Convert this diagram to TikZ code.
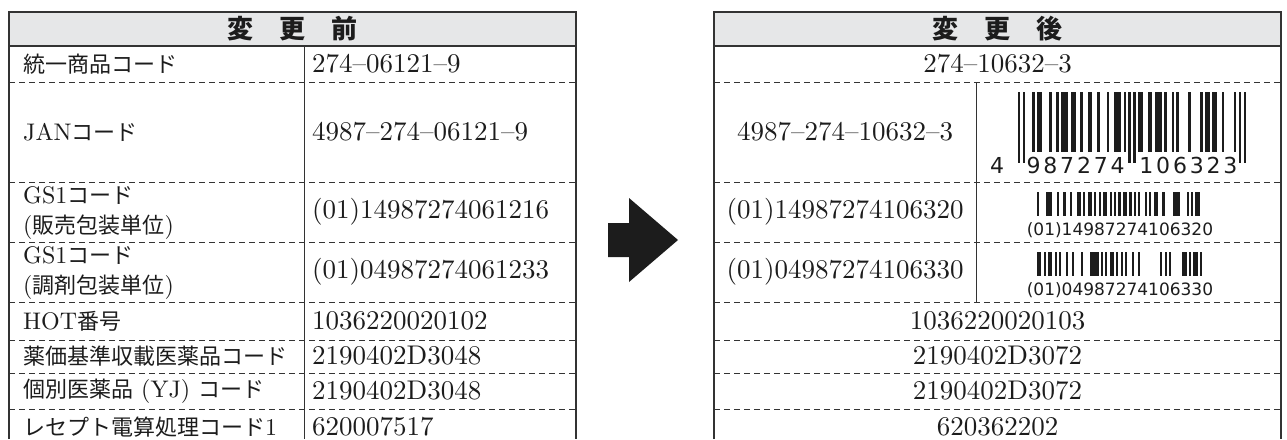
\documentclass[tikz,border=0pt]{standalone}
\usepackage{fontspec}
\setmainfont{lmroman10-regular}[Extension=.otf, BoldFont=lmroman10-bold]
\newfontfamily\jp{Noto Sans CJK JP}
\newfontfamily\bcfont{DejaVu Sans}
\newcommand{\J}[1]{{\jp\fontsize{22}{29}\selectfont #1}}
\definecolor{framegray}{HTML}{333333}
\definecolor{headgray}{HTML}{E6E7E8}
\definecolor{ink}{HTML}{1C1C1C}
\tikzset{
  frame/.style={draw=framegray, line width=1.4pt},
  colsep/.style={draw=framegray, line width=0.9pt},
  rowline/.style={draw=framegray, line width=0.8pt, dash pattern=on 6pt off 4pt},
  head/.style={inner sep=0pt, text=ink, font=\jp\bfseries\fontsize{26}{30}\selectfont},
  lab/.style={anchor=west, inner sep=0pt, align=left, text=ink, font=\fontsize{24}{30}\selectfont},
  val/.style={anchor=west, inner sep=0pt, text=ink, font=\fontsize{27}{30}\selectfont},
  mid/.style={inner sep=0pt, text=ink, font=\fontsize{27}{30}\selectfont},
  eannum/.style={anchor=base, inner sep=0pt, text=ink, font=\bcfont\fontsize{22}{24}\selectfont},
  gsnum/.style={anchor=base, inner sep=0pt, text=ink, font=\bcfont\fontsize{17}{18}\selectfont}
}

\begin{document}
\begin{tikzpicture}[x=1pt,y=-1pt]
\def\rowys{82,182,242,302,340,373,409}
\def\m{2.4}
\def\eanx{1018}
\def\gm{2.2}
\def\gsx{1037}
\useasboundingbox (0,0) rectangle (1287,439);

    % before
    \fill[headgray] (9,12) rectangle (576,46);
    \draw[frame] (9,439) -- (9,12) -- (576,12) -- (576,439);
    \draw[frame, line width=1.1pt] (9,46) -- (576,46);
    \draw[colsep] (304,46) -- (304,439);
    \foreach \y in \rowys \draw[rowline] (9,\y) -- (576,\y);
    \node[head] (bhead) at (292.5,29) {変　更　前};
    \node[lab] (b1) at (23,64) {\J{統一商品コード}};
    \node[lab] (b2) at (23,132) {JAN\J{コード}};
    \node[lab] (b3) at (23,213) {GS1\J{コード}\\(\J{販売包装単位})};
    \node[lab] (b4) at (23,273) {GS1\J{コード}\\(\J{調剤包装単位})};
    \node[lab] (b5) at (23,321) {HOT\J{番号}};
    \node[lab] (b6) at (23,356) {\J{薬価基準収載医薬品コード}};
    \node[lab] (b7) at (23,391) {\J{個別医薬品} (YJ) \J{コード}};
    \node[lab] (b8) at (23,427) {\J{レセプト電算処理コード}1};
    \node[val] (b1v) at (312,64) {274--06121--9};
    \node[val] (b2v) at (312,132) {4987--274--06121--9};
    \node[val] (b3v) at (312,212) {(01)14987274061216};
    \node[val] (b4v) at (312,272) {(01)04987274061233};
    \node[val] (b5v) at (312,321) {1036220020102};
    \node[val] (b6v) at (312,356) {2190402D3048};
    \node[val] (b7v) at (312,391) {2190402D3048};
    \node[val] (b8v) at (312,427) {620007517};

    % arrow
    \fill[ink] (608,223) -- (629,223) -- (629,198) -- (678,240) -- (629,282) -- (629,257) -- (608,257) -- cycle;

    % after
    \fill[headgray] (714,12) rectangle (1281,46);
    \draw[frame] (714,439) -- (714,12) -- (1281,12) -- (1281,439);
    \draw[frame, line width=1.1pt] (714,46) -- (1281,46);
    \draw[colsep] (976,82) -- (976,302);
    \foreach \y in \rowys \draw[rowline] (714,\y) -- (1281,\y);
    \node[head] (ahead) at (997.5,29) {変　更　後};
    \node[mid] (a1) at (997.5,64) {274--10632--3};
    \node[mid] (a2) at (845,132) {4987--274--10632--3};
    \node[mid] (a3) at (845,212) {(01)14987274106320};
    \node[mid] (a4) at (845,272) {(01)04987274106330};
    \node[mid] (a5) at (997.5,321) {1036220020103};
    \node[mid] (a6) at (997.5,356) {2190402D3072};
    \node[mid] (a7) at (997.5,391) {2190402D3072};
    \node[mid] (a8) at (997.5,427) {620362202};

    % JAN bars
    \foreach \s/\w in {6/1,8/2,13/1,16/1,18/3,22/2,26/1,29/2,33/1,37/1,40/3,44/1,
                       50/2,54/2,57/3,61/1,64/1,66/1,71/1,76/1,78/2,81/2,85/1,90/1}
      \fill[ink] ({\eanx+\s*\m},92) rectangle ++({\w*\m},60);
    \foreach \s in {0,2,46,48,92,94}
      \fill[ink] ({\eanx+\s*\m},92) rectangle ++(\m,71);
    \node[eannum] (ean0) at ({\eanx-21},173) {4};
    \foreach \d [count=\i from 0] in {9,8,7,2,7,4}
      \node[eannum] (eanl\i) at ({\eanx+(6.5+7*\i)*\m},173) {\d};
    \foreach \d [count=\i from 0] in {1,0,6,3,2,3}
      \node[eannum] (eanr\i) at ({\eanx+(53.5+7*\i)*\m},173) {\d};

    % GS1 bars
    \foreach \s/\w in {0/1,4/3,9/1,12/1,15/1,18/2,21/1,23/2,26/1,28/1,30/2,33/1,35/1,
                       37/1,39/2,42/1,44/1,46/1,49/1,51/1,53/2,57/1,62/3,68/1,70/1,72/2}
      \fill[ink] ({\gsx+\s*\gm},192) rectangle ++({\w*\gm},24);
    \node[gsnum] (gs1) at (1120,235) {(01)14987274106320};
    \foreach \s/\w in {0/2,3/1,5/2,8/1,10/1,13/1,16/1,20/1,24/4,29/1,31/1,33/2,36/1,
                       38/1,40/1,43/1,46/1,56/1,58/1,60/1,66/2,69/1,71/2,74/1}
      \fill[ink] ({\gsx+\s*\gm},252) rectangle ++({\w*\gm},24);
    \node[gsnum] (gs2) at (1120,295) {(01)04987274106330};

\end{tikzpicture}
\end{document}
